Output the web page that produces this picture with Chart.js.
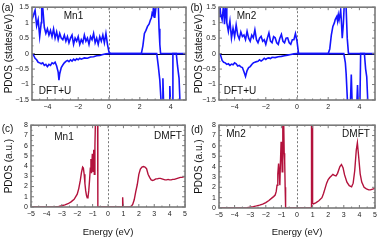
<!DOCTYPE html>
<html><head><meta charset="utf-8">
<script src="https://cdn.jsdelivr.net/npm/chart.js@4.4.1/dist/chart.umd.min.js"></script>
<style>
html,body{margin:0;padding:0;background:#fff;width:381px;height:242px;overflow:hidden;position:relative;font-family:'Liberation Sans',Arial,sans-serif;}
canvas{position:absolute;}
.t{position:absolute;transform:translate(-50%,-50%);font-size:10px;color:#111;white-space:nowrap;line-height:1;}
</style></head><body>
<canvas id="ca" width="190" height="118" style="left:0;top:0"></canvas>
<canvas id="cb" width="191" height="118" style="left:190px;top:0"></canvas>
<canvas id="cc" width="190" height="124" style="left:0;top:118px"></canvas>
<canvas id="cd" width="191" height="124" style="left:190px;top:118px"></canvas>
<div class="t" style="left:7.5px;top:8px">(a)</div>
<div class="t" style="left:73.5px;top:15.5px">Mn1</div>
<div class="t" style="left:55px;top:90.5px">DFT+U</div>
<div class="t" style="left:196.5px;top:8px">(b)</div>
<div class="t" style="left:246.5px;top:15.5px">Mn2</div>
<div class="t" style="left:240px;top:90.5px">DFT+U</div>
<div class="t" style="left:7.5px;top:128.5px">(c)</div>
<div class="t" style="left:64px;top:137px">Mn1</div>
<div class="t" style="left:168px;top:136px">DMFT</div>
<div class="t" style="left:197px;top:130px">(d)</div>
<div class="t" style="left:236px;top:134px">Mn2</div>
<div class="t" style="left:356px;top:134px">DMFT</div>
<script>
// ---- data: [energy (eV), PDOS] ----
const aUp = [[-5,1.1],[-4.9,1.25],[-4.8,1.4],[-4.7,0.9],[-4.6,1.1],[-4.5,0.55],[-4.4,1.0],[-4.37,1.6],[-4.32,1.6],[-4.2,0.85],[-4.1,0.65],[-4.0,0.8],[-3.9,0.6],[-3.8,0.75],[-3.7,0.55],[-3.6,0.8],[-3.5,0.5],[-3.4,0.7],[-3.3,0.45],[-3.2,0.65],[-3.1,0.5],[-3.0,0.45],[-2.9,0.6],[-2.8,0.4],[-2.7,0.55],[-2.6,0.35],[-2.5,0.5],[-2.4,0.6],[-2.3,0.3],[-2.2,0.5],[-2.1,0.4],[-2.0,0.55],[-1.9,0.3],[-1.8,0.45],[-1.7,0.35],[-1.6,0.6],[-1.5,0.4],[-1.4,0.5],[-1.3,0.3],[-1.2,0.55],[-1.1,0.45],[-1.0,0.65],[-0.9,0.35],[-0.8,0.5],[-0.7,0.3],[-0.6,0.55],[-0.5,0.4],[-0.4,0.6],[-0.3,0.35],[-0.2,0.65],[-0.1,0.3],[0.0,0.05],[0.1,0],[2.1,0],[2.2,0.25],[2.3,0.65],[2.4,0.75],[2.5,0.88],[2.6,0.95],[2.7,1.1],[2.75,1.15],[2.8,1.3],[2.85,1.25],[2.9,1.6],[2.97,1.15],[3.05,1.5],[3.1,1.6],[3.2,1.6],[3.25,0.8],[3.3,0.3],[3.35,0],[5,0]];
const aDown = [[-5,0],[-4.9,-0.05],[-4.8,-0.15],[-4.7,-0.2],[-4.6,-0.28],[-4.5,-0.3],[-4.4,-0.33],[-4.3,-0.3],[-4.2,-0.38],[-4.1,-0.35],[-4.0,-0.42],[-3.9,-0.35],[-3.8,-0.38],[-3.7,-0.3],[-3.6,-0.33],[-3.5,-0.28],[-3.4,-0.4],[-3.3,-0.6],[-3.25,-0.86],[-3.2,-0.65],[-3.1,-0.45],[-3.0,-0.37],[-2.9,-0.3],[-2.8,-0.25],[-2.7,-0.22],[-2.6,-0.26],[-2.5,-0.2],[-2.4,-0.24],[-2.3,-0.18],[-2.2,-0.22],[-2.1,-0.17],[-2.0,-0.2],[-1.9,-0.15],[-1.8,-0.18],[-1.6,-0.14],[-1.4,-0.15],[-1.2,-0.11],[-1.0,-0.1],[-0.8,-0.07],[-0.6,-0.06],[-0.4,-0.03],[-0.2,-0.01],[0,0],[3.1,0],[3.2,-0.4],[3.3,-0.86],[3.4,-1.7],[3.45,-1.7],[3.5,-0.8],[3.55,-1.7],[3.9,-1.7],[3.95,-1.05],[4.0,-1.7],[4.1,-1.7],[4.15,0],[4.37,0],[4.45,-0.4],[4.55,-0.8],[4.62,-1.7],[5,-1.7]];
const bUp = [[-5,1.2],[-4.95,1.6],[-4.9,1.3],[-4.8,1.1],[-4.7,1.6],[-4.65,0.95],[-4.55,1.6],[-4.5,1.0],[-4.4,0.72],[-4.3,1.05],[-4.2,0.5],[-4.1,0.82],[-4.0,0.55],[-3.9,0.93],[-3.8,0.6],[-3.7,0.47],[-3.6,0.7],[-3.5,0.55],[-3.4,0.6],[-3.3,0.45],[-3.2,0.72],[-3.1,0.5],[-3.0,0.4],[-2.9,0.6],[-2.8,0.51],[-2.7,0.77],[-2.6,0.45],[-2.5,0.35],[-2.4,0.5],[-2.3,0.56],[-2.2,0.4],[-2.1,0.45],[-2.0,0.3],[-1.9,0.5],[-1.8,0.67],[-1.7,0.4],[-1.6,0.35],[-1.5,0.55],[-1.4,0.51],[-1.3,0.35],[-1.2,0.3],[-1.1,0.5],[-1.0,0.62],[-0.9,0.4],[-0.8,0.35],[-0.7,0.5],[-0.6,0.51],[-0.5,0.35],[-0.4,0.3],[-0.3,0.45],[-0.2,0.45],[-0.1,0.65],[0,0.4],[0.1,0],[2.0,0],[2.1,0.15],[2.2,0.6],[2.3,0.88],[2.4,1.0],[2.45,1.1],[2.55,1.2],[2.6,1.05],[2.65,1.25],[2.7,1.1],[2.8,1.4],[2.85,1.0],[2.9,0.5],[2.97,0.95],[3.03,1.6],[3.14,1.6],[3.22,0.5],[3.3,0],[5,0]];
const bDown = [[-5,0],[-4.9,-0.05],[-4.8,-0.22],[-4.7,-0.28],[-4.6,-0.3],[-4.5,-0.35],[-4.4,-0.33],[-4.3,-0.38],[-4.2,-0.34],[-4.1,-0.36],[-4.0,-0.3],[-3.9,-0.33],[-3.8,-0.4],[-3.7,-0.38],[-3.6,-0.43],[-3.5,-0.45],[-3.4,-0.59],[-3.3,-0.74],[-3.2,-0.55],[-3.1,-0.45],[-3.0,-0.42],[-2.9,-0.35],[-2.8,-0.3],[-2.7,-0.28],[-2.6,-0.26],[-2.5,-0.25],[-2.4,-0.2],[-2.3,-0.24],[-2.2,-0.2],[-2.1,-0.15],[-2.0,-0.19],[-1.9,-0.15],[-1.8,-0.14],[-1.7,-0.16],[-1.6,-0.12],[-1.4,-0.13],[-1.2,-0.1],[-1.0,-0.09],[-0.8,-0.07],[-0.6,-0.05],[-0.4,-0.03],[-0.2,-0.01],[0,0],[3.0,0],[3.1,-0.3],[3.15,-0.65],[3.25,-1.7],[3.42,-1.7],[3.48,-0.68],[3.54,-1.7],[3.83,-1.7],[3.88,-1.02],[3.93,-1.7],[4.03,-1.7],[4.08,0],[4.32,0],[4.4,-0.5],[4.47,-0.75],[4.55,-1.7],[5,-1.7]];
const cMn1 = [[-5,0],[-3.5,0],[-3.2,0.05],[-3.0,0.12],[-2.8,0.2],[-2.6,0.32],[-2.4,0.5],[-2.2,0.75],[-2.0,1.25],[-1.9,1.8],[-1.8,2.6],[-1.72,3.4],[-1.65,3.9],[-1.6,3.8],[-1.55,3.2],[-1.5,2.3],[-1.45,1.6],[-1.4,1.15],[-1.35,0.9],[-1.3,0.95],[-1.25,1.6],[-1.2,2.6],[-1.15,3.8],[-1.11,4.7],[-1.07,3.3],[-1.02,5.2],[-0.97,3.5],[-0.93,5.6],[-0.89,3.2],[-0.85,6.0],[-0.81,9],[-0.68,9],[-0.66,0],[0.92,0],[0.95,0.95],[0.98,0],[1.4,0],[1.5,0.05],[1.6,0.25],[1.7,0.7],[1.8,1.5],[1.9,2.2],[2.0,3.2],[2.1,3.7],[2.2,3.9],[2.3,3.95],[2.4,3.9],[2.5,3.75],[2.6,3.2],[2.7,2.9],[2.8,2.65],[2.9,2.6],[3.0,2.65],[3.1,2.75],[3.2,2.75],[3.3,2.8],[3.4,2.8],[3.5,2.75],[3.6,2.7],[3.7,2.65],[3.8,2.65],[3.9,2.7],[4.0,2.65],[4.1,2.65],[4.2,2.7],[4.3,2.7],[4.4,2.75],[4.5,2.8],[4.6,2.85],[4.7,2.9],[4.8,2.9],[4.9,2.95],[5,3.0]];
const dMn2 = [[-5,0],[-3.5,0],[-3.2,0.03],[-3.0,0.08],[-2.8,0.13],[-2.6,0.2],[-2.4,0.28],[-2.2,0.38],[-2.0,0.52],[-1.8,0.72],[-1.6,0.98],[-1.5,1.1],[-1.4,1.25],[-1.33,1.6],[-1.28,2.2],[-1.23,3.3],[-1.18,4.3],[-1.14,3.4],[-1.1,2.2],[-1.06,4.5],[-1.02,6.4],[-0.98,5.2],[-0.95,3.5],[-0.91,9],[-0.86,9],[-0.82,5.3],[-0.79,4.6],[-0.76,2],[-0.73,0],[0.9,0],[0.93,9],[0.97,9],[1.0,0.45],[1.05,0.4],[1.2,0.5],[1.4,0.7],[1.6,1.0],[1.7,1.4],[1.8,1.9],[1.9,2.4],[2.0,2.75],[2.1,2.95],[2.2,3.1],[2.3,3.25],[2.4,3.15],[2.5,3.1],[2.6,3.35],[2.75,4.0],[2.85,4.2],[2.95,3.9],[3.05,3.2],[3.2,2.5],[3.35,2.15],[3.5,2.05],[3.6,2.4],[3.7,3.6],[3.8,5.6],[3.87,6.3],[3.95,5.0],[4.05,3.3],[4.15,2.5],[4.3,2.0],[4.45,1.85],[4.6,1.75],[4.7,1.75],[4.8,1.8],[4.9,1.85],[5,1.9]];
const xTicksDFT = [-4,-2,0,2,4];
const xTicksDMFT = [-5,-4,-3,-2,-1,0,1,2,3,4,5];
const yTicksDFT = [-1.5,-1,-0.5,0,0.5,1,1.5];
const yTicksDMFT = [0,1,2,3,4,5,6,7,8];

const F = "'Liberation Sans', Arial, sans-serif";
const BLUE = '#1414ff', RED = '#b3123c', FRAME = '#7a7a7a';
const fmt = v => { const s = String(Math.round(v*100)/100); return s.startsWith('-') ? '\u2212' + s.slice(1) : s; };
const near = (list, v) => list.some(t => Math.abs(t - v) < 1e-6);

function framePlugin(cfg){
  return {
    id:'frame',
    beforeDatasetsDraw(chart){
      const {ctx, chartArea:a, scales:{x,y}} = chart;
      ctx.save();
      if (cfg.zeroLine){
        const py = Math.round(y.getPixelForValue(0)) + 0.5;
        ctx.strokeStyle = '#000'; ctx.lineWidth = 1;
        ctx.beginPath(); ctx.moveTo(a.left, py); ctx.lineTo(a.right, py); ctx.stroke();
      }
      const px = Math.round(x.getPixelForValue(0)) + 0.5;
      ctx.strokeStyle = '#777'; ctx.lineWidth = 1; ctx.setLineDash([2,2]);
      ctx.beginPath(); ctx.moveTo(px, a.top); ctx.lineTo(px, a.bottom); ctx.stroke();
      ctx.restore();
    },
    afterDatasetsDraw(chart){
      const {ctx, chartArea:a, scales:{x,y}} = chart;
      ctx.save();
      ctx.strokeStyle = FRAME; ctx.lineWidth = 1;
      ctx.beginPath();
      x.ticks.forEach(t => {
        const p = x.getPixelForValue(t.value);
        const L = near(cfg.xMajor, t.value) ? 3 : 1.5;
        ctx.moveTo(p, a.bottom); ctx.lineTo(p, a.bottom - L);
        ctx.moveTo(p, a.top); ctx.lineTo(p, a.top + L);
      });
      y.ticks.forEach(t => {
        const p = y.getPixelForValue(t.value);
        const L = near(cfg.yMajor, t.value) ? 3 : 1.5;
        ctx.moveTo(a.left, p); ctx.lineTo(a.left + L, p);
        ctx.moveTo(a.right, p); ctx.lineTo(a.right - L, p);
      });
      ctx.stroke();
      ctx.lineWidth = 1.6;
      ctx.strokeRect(a.left, a.top, a.right - a.left, a.bottom - a.top);
      ctx.restore();
    }
  };
}

function makeChart(id, cfg){
  new Chart(document.getElementById(id), {
    type:'line',
    data:{datasets: cfg.series.map(s => ({
      data: s.pts.map(p => ({x:p[0], y:p[1]})),
      borderColor: s.color, borderWidth: s.w, pointRadius: 0, tension: 0, fill: false, clip: 0
    }))},
    options:{
      responsive:false, animation:false, devicePixelRatio:1,
      layout:{padding:cfg.pad},
      plugins:{legend:{display:false}, tooltip:{enabled:false}},
      scales:{
        x:{type:'linear', min:-5, max:5,
          grid:{display:false, drawTicks:false}, border:{display:false},
          ticks:{stepSize:0.5, autoSkip:false, maxRotation:0, padding:3, font:{size:7, family:F}, color:'#222',
            callback: v => near(cfg.xMajor, v) ? fmt(v) : ''},
          title: cfg.xTitle ? {display:true, text:cfg.xTitle, font:{size:9.5, family:F}, color:'#111', padding:{top:2, bottom:4}} : {display:false},
          afterFit: s => { s.height = cfg.xH; }
        },
        y:{type:'linear', min:cfg.ymin, max:cfg.ymax,
          grid:{display:false, drawTicks:false}, border:{display:false},
          ticks:{stepSize:cfg.ystep, autoSkip:false, padding:3, font:{size:7, family:F}, color:'#222',
            callback: v => near(cfg.yMajor, v) ? fmt(v) : ''},
          title:{display:true, text:cfg.yTitle, font:{size:10, family:F}, color:'#111', padding:{top:3, bottom:2}},
          afterFit: s => { s.width = cfg.yW; }
        }
      }
    },
    plugins:[framePlugin(cfg)]
  });
}

makeChart('ca', {series:[{pts:aUp,color:BLUE,w:1.6},{pts:aDown,color:BLUE,w:1.6}], zeroLine:true,
  ymin:-1.5, ymax:1.5, ystep:0.25, xMajor:xTicksDFT, yMajor:yTicksDFT, yTitle:'PDOS (states/eV)',
  yW:32, xH:18, pad:{top:5, right:4, left:0, bottom:0}});
makeChart('cb', {series:[{pts:bUp,color:BLUE,w:1.6},{pts:bDown,color:BLUE,w:1.6}], zeroLine:true,
  ymin:-1.5, ymax:1.5, ystep:0.25, xMajor:xTicksDFT, yMajor:yTicksDFT, yTitle:'PDOS (states/eV)',
  yW:29, xH:18, pad:{top:5, right:6, left:0, bottom:0}});
makeChart('cc', {series:[{pts:cMn1,color:RED,w:1.4}], zeroLine:false,
  ymin:0, ymax:8, ystep:0.5, xMajor:xTicksDMFT, yMajor:yTicksDMFT, yTitle:'PDOS (a.u.)', xTitle:'Energy (eV)',
  yW:31, xH:35, pad:{top:6, right:3, left:0, bottom:0}});
makeChart('cd', {series:[{pts:dMn2,color:RED,w:1.4}], zeroLine:false,
  ymin:0, ymax:8, ystep:0.5, xMajor:xTicksDMFT, yMajor:yTicksDMFT, yTitle:'PDOS (a.u.)', xTitle:'Energy (eV)',
  yW:29, xH:34, pad:{top:5, right:6, left:0, bottom:0}});
</script>
</body></html>
